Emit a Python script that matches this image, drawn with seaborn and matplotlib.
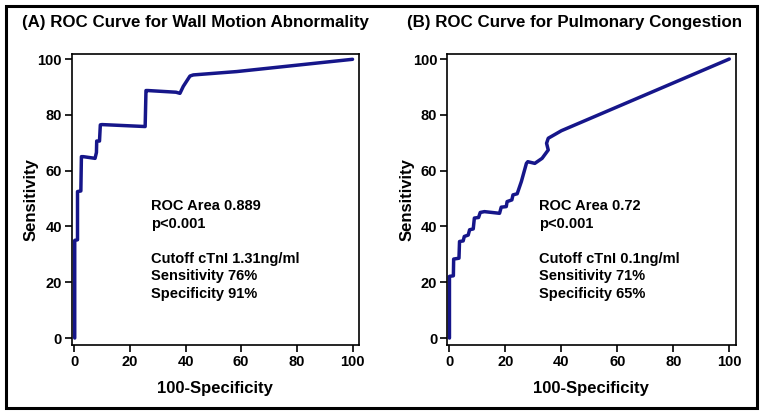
import matplotlib
matplotlib.use("Agg")
import matplotlib.pyplot as plt
import seaborn as sns
import pandas as pd
from matplotlib.patches import Rectangle

# ROC curve A: wall motion abnormality (100-specificity, sensitivity)
wma_fpr = [0.2, 0.2, 1.2, 1.2, 2.4, 2.6, 3.3, 7.5, 8.0, 8.1, 9.1, 9.4, 10.0, 25.5, 25.8,
           26.5, 36.6, 38.0, 39.2, 41.6, 42.8, 58.4, 100.0]
wma_tpr = [0.0, 35.0, 35.2, 52.5, 52.7, 65.0, 65.0, 64.4, 66.5, 70.6, 70.6, 76.4, 76.5, 75.8, 88.7,
           88.7, 88.1, 87.7, 90.2, 93.9, 94.3, 95.5, 99.9]

# ROC curve B: pulmonary congestion
pc_fpr = [0.0, 0.0, 1.4, 1.5, 3.4, 3.6, 4.9, 5.3, 6.7, 7.2, 8.5, 8.9, 10.4, 11.0, 12.5, 17.9,
          18.5, 20.3, 20.6, 22.3, 22.7, 24.2, 25.7, 27.5, 28.0, 30.5, 33.1, 35.3, 34.7, 35.3,
          40.0, 100.0]
pc_tpr = [0.0, 22.1, 22.3, 28.3, 28.6, 34.6, 34.8, 36.4, 36.9, 38.8, 39.1, 43.0, 43.2, 45.0, 45.3,
          44.7, 46.9, 47.1, 48.9, 49.5, 51.3, 51.7, 56.1, 62.6, 63.2, 62.6, 64.4, 67.4, 69.8, 71.6,
          74.3, 100.0]

titles = ["(A) ROC Curve for Wall Motion Abnormality", "(B) ROC Curve for Pulmonary Congestion"]
notes = ["ROC Area 0.889\np<0.001\n\nCutoff cTnI 1.31ng/ml\nSensitivity 76%\nSpecificity 91%",
         "ROC Area 0.72\np<0.001\n\nCutoff cTnI 0.1ng/ml\nSensitivity 71%\nSpecificity 65%"]
note_x = [27.5, 31.9]
ticks = [0, 20, 40, 60, 80, 100]

sns.set_style("ticks")
plt.rcParams["font.family"] = ["Liberation Sans", "DejaVu Sans"]
plt.rcParams["font.weight"] = "bold"
plt.rcParams["text.color"] = "black"
plt.rcParams["axes.labelcolor"] = "black"
plt.rcParams["xtick.color"] = "black"
plt.rcParams["ytick.color"] = "black"

fig = plt.figure(figsize=(7.64, 4.16), dpi=100)
ax1 = fig.add_axes([0.0938, 0.1707, 0.376, 0.6995])
ax2 = fig.add_axes([0.585, 0.1707, 0.378, 0.6995])

curves = [(wma_fpr, wma_tpr), (pc_fpr, pc_tpr)]
title_x = [22, 407]

for i, ax in enumerate([ax1, ax2]):
    df = pd.DataFrame({"fpr": curves[i][0], "tpr": curves[i][1]})
    sns.lineplot(data=df, x="fpr", y="tpr", sort=False, estimator=None,
                 color="#16168a", linewidth=2.5, ax=ax)
    ax.set_xlim(-0.9, 102.3)
    ax.set_ylim(-2.5, 101.8)
    ax.set_xticks(ticks)
    ax.set_yticks(ticks)
    ax.tick_params(axis="both", length=5, width=1.2, color="black", labelcolor="black",
                   labelsize=10.5, pad=2)
    for lab in ax.get_xticklabels() + ax.get_yticklabels():
        lab.set_fontweight("bold")
    for s in ax.spines.values():
        s.set_visible(True)
        s.set_linewidth(1.2)
        s.set_color("black")
    ax.set_xlabel("100-Specificity", fontsize=12, fontweight="bold", labelpad=9)
    ax.set_ylabel("Sensitivity", fontsize=12, fontweight="bold", labelpad=-1)
    ax.text(note_x[i], 49.8, notes[i], fontsize=10.5, fontweight="bold", va="top", ha="left",
            linespacing=1.32)
    fig.text(title_x[i] / 764, 1 - 22 / 416, titles[i], fontsize=12.2, fontweight="bold",
             va="center", ha="left")

# outer frame around the whole figure
fig.patches.append(Rectangle((6 / 764, 1 - 408 / 416), 751 / 764, 402 / 416,
                             transform=fig.transFigure, fill=False, edgecolor="black",
                             linewidth=2.2))

fig.savefig("out.png", dpi=100)
